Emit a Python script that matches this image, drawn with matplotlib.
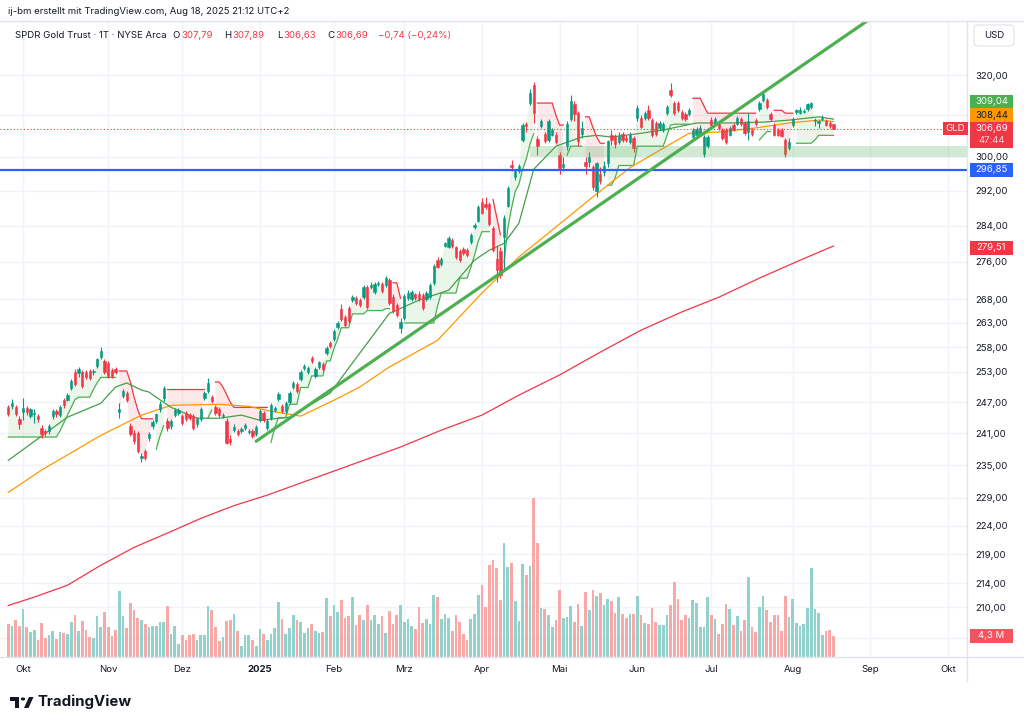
import numpy as np
import matplotlib
matplotlib.use("Agg")
import matplotlib.pyplot as plt
from matplotlib.patches import Rectangle, Polygon, Circle, FancyBboxPatch
from matplotlib.ticker import NullLocator
from matplotlib.transforms import blended_transform_factory

plt.rcParams['font.family'] = ['Inter', 'DejaVu Sans']

W, H = 1024, 726

# ---- data (daily bars, index 0 = 1 Oct 2024, first bar = 25 Sep 2024) ----
first_bar = -4
opens = [
    246.0, 246.2, 246.1, 243.7, 245.1, 245.9, 244.3, 244.7, 244.3, 242.1,
    241.4, 241.4, 244.3, 245.3, 244.5, 247.5, 247.5, 249.9, 252.9, 252.7,
    252.9, 252.9, 253.1, 252.9, 254.2, 256.1, 255.2, 254.7, 253.3, 253.6,
    245.2, 248.2, 248.9, 242.4, 241.1, 241.1, 236.3, 237.6, 240.1, 242.4,
    243.4, 245.7, 247.8, 243.4, 242.4, 244.6, 245.0, 244.3, 244.9, 244.5,
    244.3, 242.7, 243.7, 247.8, 249.2, 248.0, 246.0, 245.6, 244.4, 243.4,
    239.9, 241.6, 241.4, 241.5, 242.0, 241.3, 241.4, 240.9, 243.6, 244.9,
    242.0, 244.0, 245.5, 247.6, 246.3, 245.3, 247.1, 250.1, 250.6, 251.6,
    253.8, 252.9, 255.8, 252.2, 254.0, 254.6, 256.8, 258.9, 259.6, 262.2,
    266.0, 264.2, 266.2, 267.8, 268.3, 267.8, 268.5, 270.6, 270.6, 269.6,
    271.2, 271.3, 271.0, 272.1, 268.5, 266.8, 262.0, 264.0, 268.2, 268.0,
    269.0, 269.0, 268.9, 268.0, 268.5, 271.5, 276.4, 275.5, 279.6, 279.4,
    280.8, 279.2, 278.5, 278.8, 278.6, 280.4, 283.8, 285.2, 289.5, 288.9,
    289.0, 283.6, 276.6, 278.5, 281.5, 288.6, 298.0, 295.2, 296.6, 303.9,
    307.9, 313.0, 317.6, 304.3, 307.3, 305.5, 304.0, 305.3, 305.3, 300.3,
    297.5, 302.5, 309.0, 312.7, 310.5, 305.5, 298.8, 298.8, 297.5, 292.0,
    296.0, 296.3, 298.5, 305.2, 305.0, 303.5, 305.5, 304.5, 303.5, 304.5,
    309.2, 309.4, 309.2, 311.2, 308.8, 308.0, 306.8, 306.5, 310.5, 316.2,
    313.0, 313.0, 310.7, 310.3, 310.3, 304.8, 305.1, 305.5, 300.7, 302.5,
    308.8, 307.7, 307.8, 306.3, 306.3, 305.3, 307.5, 307.9, 309.0, 308.0,
    306.0, 306.5, 308.8, 311.5, 313.7, 313.7, 310.3, 307.6, 306.5, 306.3,
    304.0, 302.0, 307.6, 310.8, 310.6, 310.9, 311.5, 312.0, 308.5, 308.2,
    309.0, 308.6, 308.2, 307.79,
]
highs = [
    246.4, 247.6, 246.5, 244.3, 247.8, 246.3, 245.9, 245.6, 244.8, 242.5,
    241.8, 242.8, 245.6, 245.7, 246.4, 247.9, 248.9, 251.5, 253.6, 254.0,
    253.3, 253.4, 253.6, 253.6, 255.9, 258.0, 255.6, 255.1, 253.8, 254.0,
    246.8, 249.6, 249.3, 242.9, 241.6, 241.5, 237.2, 238.0, 241.3, 243.5,
    245.0, 247.2, 250.2, 243.9, 243.8, 245.9, 245.8, 244.8, 245.3, 245.0,
    244.7, 244.1, 246.0, 249.3, 251.8, 248.5, 246.4, 246.0, 245.0, 243.9,
    240.6, 242.8, 241.9, 242.2, 243.0, 241.9, 241.8, 242.6, 245.7, 245.3,
    243.8, 246.9, 246.3, 249.1, 246.7, 247.3, 249.2, 251.2, 251.0, 253.3,
    254.6, 254.2, 256.2, 254.0, 255.3, 255.0, 258.3, 259.3, 261.8, 263.4,
    266.9, 264.6, 266.6, 268.9, 268.7, 268.2, 271.0, 271.0, 271.6, 271.7,
    271.9, 271.7, 273.0, 272.5, 269.0, 267.2, 264.0, 269.0, 270.0, 270.0,
    269.4, 269.8, 269.3, 269.8, 271.4, 275.5, 277.0, 277.0, 280.5, 281.7,
    281.2, 279.6, 278.9, 279.2, 279.0, 282.3, 284.7, 288.7, 290.3, 290.5,
    289.4, 284.0, 279.5, 279.3, 286.5, 293.0, 299.2, 297.0, 298.3, 308.2,
    308.4, 316.5, 318.3, 305.0, 309.0, 306.0, 309.0, 307.0, 305.8, 301.0,
    300.0, 308.5, 315.0, 313.5, 311.0, 308.5, 300.0, 301.0, 298.0, 298.8,
    297.5, 299.0, 304.0, 306.5, 305.5, 306.0, 306.0, 305.2, 305.8, 305.0,
    312.5, 310.0, 311.0, 312.5, 309.3, 308.5, 308.5, 308.3, 312.5, 317.9,
    313.5, 313.5, 311.2, 310.8, 311.7, 306.8, 307.1, 307.5, 305.1, 305.3,
    309.6, 309.5, 308.3, 306.8, 306.8, 307.3, 308.0, 309.9, 309.5, 308.5,
    310.5, 307.0, 309.3, 313.5, 316.0, 314.2, 310.8, 308.0, 307.0, 306.8,
    304.5, 304.5, 309.5, 311.6, 311.9, 311.6, 313.1, 313.3, 309.3, 308.8,
    310.0, 309.0, 308.6, 307.89,
]
lows = [
    244.4, 245.6, 244.3, 241.9, 243.5, 244.6, 243.9, 242.9, 243.2, 240.1,
    240.4, 240.9, 243.8, 244.2, 244.1, 245.9, 247.2, 249.5, 250.2, 252.0,
    249.8, 251.5, 251.3, 252.3, 253.8, 255.7, 252.5, 251.8, 251.8, 252.5,
    244.0, 247.8, 247.0, 240.5, 239.0, 237.2, 235.6, 235.9, 239.6, 241.9,
    243.0, 245.2, 247.3, 241.5, 241.9, 244.2, 244.6, 242.6, 243.3, 243.6,
    241.6, 242.3, 243.3, 247.4, 248.8, 246.8, 244.6, 244.1, 243.9, 238.9,
    238.8, 241.2, 240.4, 241.1, 241.6, 240.8, 240.1, 240.5, 243.2, 243.2,
    241.6, 243.6, 245.1, 247.2, 244.9, 244.9, 246.7, 249.7, 248.8, 251.2,
    253.4, 252.5, 254.8, 251.8, 253.6, 253.2, 256.4, 257.9, 259.2, 261.8,
    263.4, 262.2, 263.0, 267.4, 266.8, 266.4, 268.1, 265.9, 270.2, 269.2,
    270.8, 269.4, 270.6, 266.8, 265.0, 264.3, 261.0, 263.6, 267.8, 267.6,
    267.9, 267.6, 265.8, 267.6, 268.1, 271.1, 274.6, 275.1, 279.2, 279.0,
    279.1, 276.7, 276.0, 277.6, 277.2, 280.0, 283.4, 284.8, 286.6, 287.9,
    283.9, 278.2, 271.6, 272.5, 274.5, 288.2, 296.5, 294.6, 296.2, 303.5,
    305.8, 312.5, 308.0, 300.3, 306.9, 303.3, 303.6, 304.9, 303.1, 295.8,
    296.5, 301.5, 308.5, 308.5, 302.5, 304.5, 295.8, 297.5, 292.2, 290.5,
    293.5, 295.5, 297.5, 302.8, 302.0, 303.0, 303.5, 303.5, 303.0, 301.0,
    308.7, 306.8, 308.8, 308.8, 304.6, 305.0, 306.3, 306.0, 310.0, 314.5,
    310.0, 310.8, 308.9, 308.6, 309.8, 304.3, 304.6, 305.0, 299.8, 302.0,
    307.2, 307.3, 306.4, 304.0, 302.9, 304.9, 306.1, 307.5, 307.4, 305.2,
    304.0, 305.0, 307.4, 311.0, 313.3, 311.6, 308.6, 304.9, 304.9, 304.6,
    300.0, 301.5, 307.2, 310.4, 310.2, 310.5, 311.1, 311.5, 307.3, 307.0,
    308.6, 307.3, 306.9, 306.63,
]
closes = [
    244.8, 246.8, 244.7, 242.7, 245.9, 245.1, 245.6, 245.0, 243.7, 240.9,
    241.0, 242.4, 245.3, 244.8, 246.0, 246.4, 248.5, 251.2, 250.6, 253.6,
    250.2, 251.9, 251.8, 253.2, 255.6, 257.3, 252.9, 252.2, 252.2, 252.9,
    245.7, 249.2, 247.5, 240.9, 239.5, 237.6, 236.7, 236.3, 240.9, 243.1,
    244.7, 246.7, 249.8, 242.0, 243.4, 245.5, 245.4, 243.0, 243.7, 244.0,
    242.0, 243.7, 245.6, 248.9, 250.8, 247.2, 245.0, 244.5, 244.6, 239.1,
    239.3, 242.3, 240.8, 241.9, 242.6, 241.5, 240.5, 242.2, 245.3, 243.6,
    243.4, 246.5, 245.9, 248.7, 245.3, 246.9, 248.8, 250.8, 249.2, 252.9,
    254.2, 253.8, 255.2, 253.6, 254.9, 253.6, 257.9, 258.3, 261.4, 263.0,
    263.8, 262.6, 263.4, 268.5, 267.2, 266.8, 270.6, 266.3, 271.0, 271.3,
    271.4, 269.8, 272.6, 267.1, 265.5, 264.7, 263.1, 268.6, 269.4, 269.6,
    268.3, 268.0, 266.2, 269.4, 271.0, 275.1, 275.0, 276.6, 280.1, 281.3,
    279.5, 277.1, 276.4, 278.0, 277.6, 281.9, 284.3, 288.3, 287.0, 288.3,
    284.5, 278.6, 274.2, 273.2, 285.8, 292.6, 297.6, 296.6, 297.9, 307.6,
    307.4, 315.5, 310.6, 302.5, 308.6, 303.8, 308.5, 306.5, 303.5, 297.3,
    298.3, 307.8, 313.5, 310.3, 303.8, 307.0, 297.9, 299.9, 292.9, 298.4,
    294.2, 297.8, 303.7, 304.0, 303.0, 305.0, 304.0, 304.0, 305.3, 302.0,
    311.7, 307.2, 310.5, 309.2, 305.1, 305.5, 308.0, 307.8, 312.0, 315.0,
    310.5, 311.3, 309.3, 309.0, 311.2, 306.3, 306.6, 307.0, 304.6, 304.8,
    307.6, 309.0, 306.8, 304.5, 303.4, 306.8, 306.5, 309.4, 307.8, 305.6,
    308.6, 305.5, 307.8, 313.0, 315.3, 312.0, 309.0, 305.3, 305.3, 305.0,
    300.6, 303.5, 309.0, 311.2, 311.4, 311.1, 312.7, 313.0, 308.8, 308.5,
    309.4, 307.7, 307.3, 306.69,
]
volumes = [  # millions of shares
    6.7, 6.4, 7.6, 6.4, 9.8, 6.2, 5.2, 5.5, 3.5, 7.0,
    3.8, 4.5, 5.4, 3.6, 5.1, 5.0, 4.8, 7.2, 8.5, 5.4,
    7.4, 5.6, 4.1, 3.8, 8.3, 6.1, 9.2, 6.2, 4.3, 5.6,
    13.5, 8.3, 6.0, 11.1, 9.6, 8.0, 7.6, 6.7, 6.2, 6.3,
    6.3, 7.1, 7.1, 10.5, 4.6, 6.4, 2.7, 4.4, 3.4, 4.4,
    4.6, 3.4, 4.4, 4.4, 10.5, 9.6, 6.2, 3.2, 4.1, 7.4,
    7.5, 8.7, 5.4, 2.3, 4.4, 4.4, 3.4, 2.3, 5.8, 4.6,
    3.5, 4.8, 6.0, 11.3, 7.8, 4.6, 6.0, 8.5, 7.6, 7.1,
    4.9, 6.0, 6.7, 5.4, 5.0, 5.2, 12.0, 8.3, 10.7, 9.2,
    11.7, 8.0, 8.4, 12.2, 6.6, 8.5, 7.6, 10.7, 7.5, 8.5,
    6.7, 8.3, 4.9, 9.4, 6.7, 8.5, 10.6, 7.2, 7.8, 6.4,
    5.8, 10.2,
    7.0, 7.7, 6.7, 12.6, 12.3, 7.8, 8.7, 8.0, 5.4, 8.5,
    7.2, 4.6, 3.4, 7.8, 8.7, 12.6, 14.7, 10.2, 18.9, 19.8,
    18.2, 11.6, 23.3, 18.3, 19.3, 11.5, 7.4, 19.0, 16.8, 18.7,
    32.5, 23.3, 10.0, 9.8, 8.5, 6.2, 7.6, 13.7, 7.9, 8.2,
    10.5, 7.2, 10.9, 6.4, 13.3, 9.6, 13.7, 12.4, 13.0, 10.7,
    11.8, 11.5, 8.9, 12.2, 8.7, 8.0, 8.7, 8.7, 12.4, 8.5,
    7.0, 6.8, 10.0, 7.2, 6.6, 6.6, 8.5, 10.6, 15.3, 11.8,
    7.6, 8.5, 8.0, 11.7, 11.0, 6.2, 6.2, 12.3, 8.5, 7.7,
    4.8, 6.8, 10.8, 9.9, 6.5, 8.4, 5.4, 7.5, 16.3, 6.2,
    5.1, 10.2, 12.5, 9.7, 7.1, 8.5, 8.5, 5.4, 12.4, 8.1,
    11.8, 6.9, 6.4, 6.8, 10.0, 18.2, 9.8, 8.9, 4.4, 5.4,
    5.5, 4.3,
]

# SuperTrend level as (value, number of bars)
st_runs = [
    (240.3, 14), (241.5, 1), (243.0, 1), (244.5, 1), (246.0, 1), (247.5, 1),
    (248.0, 4), (249.5, 1), (250.8, 1), (251.9, 5),
    (253.2, 3), (251.0, 1), (248.0, 1), (245.5, 1), (243.8, 4),
    (238.0, 1), (240.5, 1), (242.5, 1), (249.5, 11), (244.0, 1), (245.5, 1),
    (251.0, 2), (250.0, 1), (248.5, 1), (247.0, 1), (246.0, 10),
    (239.3, 1), (242.0, 1), (244.0, 3), (246.6, 3), (249.9, 3), (252.2, 4),
    (255.2, 2), (257.7, 1), (259.6, 1), (262.0, 3), (264.9, 4), (265.6, 5),
    (266.0, 2), (271.5, 2), (268.2, 1), (263.0, 9), (266.5, 1), (269.3, 5),
    (272.5, 3), (274.8, 1), (277.5, 1), (280.5, 1), (282.7, 3),
    (290.0, 1), (286.0, 1), (282.0, 1),
    (275.9, 1), (283.5, 1), (288.0, 1), (291.8, 1), (293.5, 1), (297.0, 1),
    (299.5, 1), (303.0, 1), (305.5, 1),
    (313.0, 5), (310.0, 1), (307.6, 2), (300.3, 1), (302.5, 4),
    (309.6, 2), (307.0, 1), (304.7, 1), (303.2, 2),
    (293.3, 2), (295.0, 1), (297.9, 5), (302.5, 8), (305.0, 1), (307.6, 1),
    (307.8, 5), (314.2, 3), (312.3, 1), (310.5, 14),
    (304.0, 1), (305.0, 1), (306.0, 2), (311.2, 3), (310.5, 3),
    (303.2, 5), (304.0, 1), (305.1, 5),
]

# moving averages at a few bars
ma20_idx = [-4, 12, 21, 25, 28, 32, 34, 40, 47, 53, 59, 64, 72, 83, 91, 99, 107, 115,
            122, 126, 130, 134, 138, 144, 151, 155, 159, 167, 173, 182, 191, 200, 207, 215, 219]
ma20_val = [235.9, 244.1, 246.8, 250.0, 250.8, 249.4, 249.0, 246.0, 243.9, 243.9, 244.5,
            243.5, 244.1, 248.8, 256.8, 265.0, 267.8, 269.9, 276.4, 278.6, 280.1, 284.6,
            297.0, 302.5, 304.7, 305.1, 304.7, 305.6, 306.4, 308.1, 308.1, 308.3, 308.8,
            309.6, 309.04]
ma50_idx = [-4, 5, 21, 32, 40, 53, 61, 66, 75, 84, 91, 99, 112, 124, 134, 153, 164, 173,
            180, 188, 198, 207, 215, 219]
ma50_val = [230.0, 234.1, 240.6, 244.5, 246.4, 246.6, 246.2, 245.4, 244.3, 247.4, 250.0,
            254.0, 259.4, 269.3, 277.1, 289.9, 297.4, 302.0, 305.6, 305.9, 306.9, 308.1,
            308.8, 308.44]
ma200_idx = [-4, 3, 12, 21, 30, 39, 48, 57, 66, 75, 86, 102, 113, 124, 134, 145, 156, 167,
             178, 188, 199, 210, 219]
ma200_val = [210.3, 211.7, 213.7, 217.1, 220.2, 222.7, 225.3, 227.6, 229.5, 231.7, 234.4,
             238.4, 241.6, 244.5, 248.4, 252.4, 257.0, 261.5, 265.3, 268.4, 272.5, 276.4,
             279.51]

# drawings
trend_idx = [63, 199]
trend_val = [239.5, 315.0]
blue_level = 296.85
zone_start, zone_low, zone_high = 137, 299.9, 302.5

month_idx = [0, 23, 43, 64, 84, 103, 124, 145, 166, 186, 208, 229, 250]
month_lbl = ['Okt', 'Nov', 'Dez', '2025', 'Feb', 'Mrz', 'Apr', 'Mai', 'Jun', 'Jul',
             'Aug', 'Sep', 'Okt']
price_ticks = [320, 300, 292, 284, 276, 268, 263, 258, 253, 247, 241, 235, 229, 224, 219,
               214, 210]
grid_only = [310, 205]

# ---- setup ----
o = np.array(opens); h = np.array(highs); l = np.array(lows); c = np.array(closes)
v = np.array(volumes)
x = np.arange(first_bar, first_bar + len(c))
st = np.repeat([r[0] for r in st_runs], [r[1] for r in st_runs])
up = st < c
mid = (o + c) / 2

UP, DN = '#089981', '#f23645'
TXT = '#131722'
GRID = '#f0f3fa'
FS = 6.9

fig = plt.figure(figsize=(W / 100, H / 100), dpi=100)
rect = [0, 1 - 657 / H, 967 / W, (657 - 21) / H]
axv = fig.add_axes(rect)
ax = fig.add_axes(rect, sharex=axv)
ax.patch.set_visible(False)

ax.set_yscale('log')
ax.set_ylim(201.9, 334.0)
ax.set_xlim(-6.24, 255.1)
axv.set_ylim(0, 130)
axv.axis('off')

# grid (behind the volume)
gtr = blended_transform_factory(axv.transAxes, ax.transData)
for p in price_ticks + grid_only:
    axv.plot([0, 1], [p, p], transform=gtr, color=GRID, lw=1, zorder=0)
for m in month_idx:
    axv.axvline(m, color=GRID, lw=1, zorder=0)

# volume
vcol = np.where(c >= o, '#92d2cc', '#f7a8a7')
axv.bar(x, v, width=0.72, color=vcol, zorder=1)

# supertrend fill + lines
ax.fill_between(x, st, mid, where=up, color='#4caf50', alpha=0.11, lw=0, zorder=1)
ax.fill_between(x, st, mid, where=~up, color='#f23645', alpha=0.11, lw=0, zorder=1)
ax.plot(x, np.where(up, st, np.nan), color='#4caf50', lw=0.9, zorder=2)
ax.plot(x, np.where(~up, st, np.nan), color='#f23645', lw=0.9, zorder=2)

# moving averages
ax.plot(ma200_idx, ma200_val, color='#f23645', lw=0.9, zorder=2)
ax.plot(ma50_idx, ma50_val, color='#ff9800', lw=0.9, zorder=2)
ax.plot(ma20_idx, ma20_val, color='#43a047', lw=0.9, zorder=2)

# candles
ccol = np.where(c >= o, UP, DN)
ax.vlines(x, l, h, colors=ccol, lw=0.8, zorder=3)
ax.bar(x, np.abs(c - o), bottom=np.minimum(o, c), width=0.62, color=ccol,
       edgecolor=ccol, linewidth=0.4, zorder=3)

# drawings
ax.add_patch(Rectangle((zone_start, zone_low), 300, zone_high - zone_low,
                       facecolor='#4caf50', alpha=0.25, lw=0, zorder=4))
ax.axhline(blue_level, color='#2962ff', lw=1.6, zorder=5)
ax.axhline(c[-1], color='#f23645', lw=0.8, ls=(0, (1, 2)), zorder=5)
slope = np.log(trend_val[1] / trend_val[0]) / (trend_idx[1] - trend_idx[0])
tx_end = 250
ty_end = trend_val[0] * np.exp(slope * (tx_end - trend_idx[0]))
ax.plot([trend_idx[0], tx_end], [trend_val[0], ty_end], color='#4caf50', lw=2.3,
        solid_capstyle='round', zorder=5)

# axes / ticks
for s in ax.spines.values():
    s.set_visible(False)
ax.yaxis.tick_right()
ax.yaxis.set_minor_locator(NullLocator())
ax.set_yticks(price_ticks)
ax.set_yticklabels([f'{p:.2f}'.replace('.', ',') for p in price_ticks])
ax.tick_params(axis='y', length=0, pad=6, labelsize=FS, labelcolor=TXT)
ax.set_xticks(month_idx)
ax.set_xticklabels(month_lbl)
ax.tick_params(axis='x', length=0, pad=5.5, labelsize=FS, labelcolor=TXT)
for t in ax.get_xticklabels():
    if t.get_text() == '2025':
        t.set_fontweight('bold')


# frame lines
def fx(px_):
    return px_ / W


def fy(py_):
    return 1 - py_ / H


fig.add_artist(plt.Line2D([0, 1], [fy(21), fy(21)], color='#e0e3eb', lw=1))
fig.add_artist(plt.Line2D([fx(967), fx(967)], [fy(21), fy(681)], color='#e0e3eb', lw=1))
fig.add_artist(plt.Line2D([0, 1], [fy(657), fy(657)], color='#e0e3eb', lw=1))

# header
fig.text(fx(8), fy(12), 'ij-bm erstellt mit TradingView.com, Aug 18, 2025 21:12 UTC+2',
         fontsize=FS, color=TXT, va='center')

# legend line, laid out left to right so pieces never collide
renderer = fig.canvas.get_renderer()
legend_parts = [
    (15, 'SPDR Gold Trust · 1T · NYSE Arca', TXT, 0),
    (163, 'O', TXT, 6), (168.5, f'{o[-1]:.2f}'.replace('.', ','), DN, 1),
    (210, 'H', TXT, 12), (216, f'{h[-1]:.2f}'.replace('.', ','), DN, 1),
    (250.5, 'L', TXT, 12), (255, f'{l[-1]:.2f}'.replace('.', ','), DN, 1),
    (296, 'C', TXT, 12), (302, f'{c[-1]:.2f}'.replace('.', ','), DN, 1),
    (339, '−0,74 (−0,24%)', DN, 10),
]
x_end = 0
for px_, s, col, gap in legend_parts:
    xpos = max(px_, x_end + gap)
    t = fig.text(fx(xpos), fy(35), s, fontsize=FS, color=col, va='center')
    x_end = t.get_window_extent(renderer).x1

# USD box
fig.add_artist(FancyBboxPatch((fx(974), fy(46)), fx(40), 21 / H,
                              boxstyle='round,pad=0,rounding_size=0.004',
                              transform=fig.transFigure, facecolor='white',
                              edgecolor='#e0e3eb', lw=0.8))
fig.text(fx(994), fy(35.5), 'USD', fontsize=FS, color=TXT, ha='center', va='center')


# price tags
def y_of(val):
    return H - ax.transData.transform((0, val))[1]


def tag(yc, text, fc, tc='white', x0=970, x1=1013, hh=14, fs=FS):
    fig.add_artist(Rectangle((fx(x0), fy(yc + hh / 2)), (x1 - x0) / W, hh / H,
                             transform=fig.transFigure, facecolor=fc, lw=0, zorder=10))
    fig.text(fx((x0 + x1) / 2), fy(yc), text, ha='center', va='center', color=tc,
             fontsize=fs, zorder=11)


fmt = lambda val: f'{val:.2f}'.replace('.', ',')
yc = y_of(c[-1])
tag(yc - 27, fmt(ma20_val[-1]), '#4caf50')
tag(yc - 13.5, fmt(ma50_val[-1]), '#ff9800', tc=TXT)
fig.add_artist(Rectangle((fx(970), fy(yc + 19)), 43 / W, 26 / H, transform=fig.transFigure,
                         facecolor=DN, lw=0, zorder=10))
fig.text(fx(991.5), fy(yc), fmt(c[-1]), ha='center', va='center', color='white', fontsize=FS,
         zorder=11)
fig.text(fx(991.5), fy(yc + 11.5), '47:44', ha='center', va='center', color='#ffd6d9',
         fontsize=FS, zorder=11)
tag(yc, 'GLD', DN, x0=943, x1=968, hh=13)
tag(y_of(blue_level), fmt(blue_level), '#2962ff')
tag(y_of(ma200_val[-1]) + 1.5, fmt(ma200_val[-1]), DN)
vol_y = H - axv.transData.transform((0, v[-1]))[1]
tag(vol_y, f'{v[-1]:.1f} M'.replace('.', ','), '#f7525f')

# logo
fig.add_artist(Rectangle((fx(10), fy(701)), fx(9), 4 / H, transform=fig.transFigure,
                         facecolor=TXT, lw=0))
fig.add_artist(Rectangle((fx(15), fy(708)), fx(4), 11 / H, transform=fig.transFigure,
                         facecolor=TXT, lw=0))
fig.add_artist(Circle((fx(23), fy(699)), 2.2 / W, transform=fig.transFigure,
                      facecolor=TXT, lw=0))
fig.add_artist(Polygon([(fx(24), fy(708)), (fx(29), fy(697)), (fx(33.5), fy(697)),
                        (fx(28.5), fy(708))], closed=True, transform=fig.transFigure,
                       facecolor=TXT, lw=0))
fig.text(fx(38), fy(702), 'TradingView', fontsize=10.8, fontweight='bold', color=TXT,
         va='center')

fig.savefig('out.png', dpi=100, facecolor='white')
